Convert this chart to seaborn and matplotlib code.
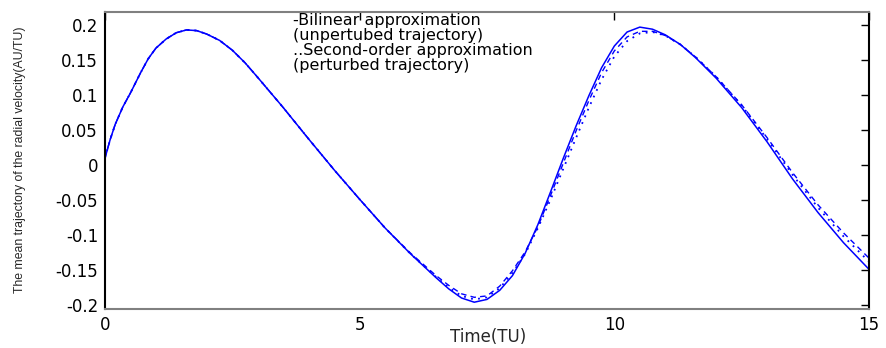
import numpy as np
import pandas as pd
import matplotlib
matplotlib.use("Agg")
import matplotlib.pyplot as plt
import seaborn as sns
from matplotlib import font_manager

# ---------------- data ----------------
t = [0.0, 0.1, 0.2, 0.35, 0.5, 0.7, 0.85, 1.0, 1.2, 1.4, 1.6, 1.8, 2.0, 2.25, 2.5,
     2.75, 3.0, 3.5, 4.0, 4.5, 5.0, 5.5, 6.0, 6.5, 6.75, 7.0, 7.25, 7.5, 7.75, 8.0,
     8.25, 8.5, 8.75, 9.0, 9.25, 9.5, 9.75, 10.0, 10.25, 10.5, 10.75, 11.0, 11.3,
     11.6, 12.0, 12.5, 13.0, 13.5, 14.0, 14.5, 15.0]

solid = [0.010, 0.036, 0.058, 0.083, 0.103, 0.132, 0.152, 0.167, 0.180, 0.189, 0.193,
         0.192, 0.187, 0.178, 0.164, 0.146, 0.125, 0.082, 0.037, -0.007, -0.049, -0.090,
         -0.127, -0.161, -0.177, -0.190, -0.196, -0.192, -0.179, -0.158, -0.126, -0.085,
         -0.038, 0.010, 0.056, 0.099, 0.139, 0.170, 0.190, 0.197, 0.194, 0.186, 0.172,
         0.153, 0.124, 0.082, 0.033, -0.020, -0.068, -0.111, -0.149]

dashed = [0.010, 0.036, 0.058, 0.083, 0.103, 0.132, 0.152, 0.167, 0.180, 0.189, 0.193,
          0.192, 0.187, 0.178, 0.164, 0.146, 0.125, 0.082, 0.037, -0.007, -0.049, -0.090,
          -0.126, -0.158, -0.172, -0.184, -0.189, -0.187, -0.173, -0.151, -0.124, -0.088,
          -0.043, 0.003, 0.049, 0.092, 0.132, 0.163, 0.183, 0.191, 0.191, 0.185, 0.172,
          0.154, 0.126, 0.086, 0.039, -0.011, -0.057, -0.097, -0.133]

dotted = [0.010, 0.036, 0.058, 0.083, 0.103, 0.132, 0.152, 0.167, 0.180, 0.189, 0.193,
          0.192, 0.187, 0.178, 0.164, 0.146, 0.125, 0.082, 0.037, -0.007, -0.049, -0.090,
          -0.127, -0.160, -0.175, -0.187, -0.192, -0.189, -0.176, -0.154, -0.127, -0.090,
          -0.049, -0.005, 0.039, 0.082, 0.122, 0.155, 0.177, 0.188, 0.190, 0.185, 0.172,
          0.154, 0.126, 0.085, 0.037, -0.014, -0.061, -0.102, -0.138]

x_ticks = [0, 5, 10, 15]
y_ticks = [-0.2, -0.15, -0.1, -0.05, 0, 0.05, 0.1, 0.15, 0.2]
y_tick_labels = ["-0.2", "-0.15", "-0.1", "-0.05", "0", "0.05", "0.1", "0.15", "0.2"]

note_lines = ["-Bilinear approximation", "(unpertubed trajectory)",
              "..Second-order approximation", "(perturbed trajectory)"]

x_label = "Time(TU)"
y_label = "The mean trajectory of the radial velocity(AU/TU)"

# ---------------- plotting ----------------
sns.set_style("white")
plt.rcParams["font.family"] = ["DejaVu Sans"]

W, H = 886, 348
fig = plt.figure(figsize=(W / 100, H / 100), dpi=100)
ax_l, ax_r, ax_t, ax_b = 105, 869, 12, 309
ax = fig.add_axes([ax_l / W, 1 - ax_b / H, (ax_r - ax_l) / W, (ax_b - ax_t) / H])

df = pd.DataFrame({"t": t, "solid": solid, "dashed": dashed, "dotted": dotted})
sns.lineplot(data=df, x="t", y="dashed", ax=ax, color="#0000ff", lw=1.0,
             linestyle=(0, (4, 3)))
sns.lineplot(data=df, x="t", y="dotted", ax=ax, color="#0000ff", lw=1.3,
             linestyle=(0, (1, 3)))
sns.lineplot(data=df, x="t", y="solid", ax=ax, color="#0000ff", lw=1.1,
             linestyle="-")

ax.set_xlim(0, 15)
ax.set_ylim(-0.2057, 0.2186)
ax.set_xticks(x_ticks)
ax.set_xticklabels([str(v) for v in x_ticks])
ax.set_yticks(y_ticks)
ax.set_yticklabels(y_tick_labels)

ax.tick_params(direction="in", length=5.5, width=1.0, colors="black",
               top=True, right=True, labelsize=12, pad=5)
ax.tick_params(axis="x", pad=5)

for side in ["left", "right"]:
    ax.spines[side].set_color("black")
    ax.spines[side].set_linewidth(1.5)
for side in ["top", "bottom"]:
    ax.spines[side].set_color("#808080")
    ax.spines[side].set_linewidth(1.5)

ax_w, ax_h = ax_r - ax_l, ax_b - ax_t
ax.set_xlabel(x_label, fontsize=12)
ax.xaxis.set_label_coords((488 - ax_l) / ax_w, (ax_b - 328) / ax_h)

avail = {f.name for f in font_manager.fontManager.ttflist}
if "Liberation Sans Narrow" in avail:
    ax.set_ylabel(y_label, fontsize=10.5, family=["Liberation Sans Narrow", "DejaVu Sans"])
else:
    ax.set_ylabel(y_label, fontsize=8.8, family=["Liberation Sans", "DejaVu Sans"])
ax.yaxis.set_label_coords((26 - ax_l) / ax_w, (ax_b - 160) / ax_h)

fig.text(293 / W, 1 - 13 / H, "\n".join(note_lines), fontsize=11.5, ha="left",
         va="top", color="black", linespacing=0.99)

fig.savefig("out.png", dpi=100)
